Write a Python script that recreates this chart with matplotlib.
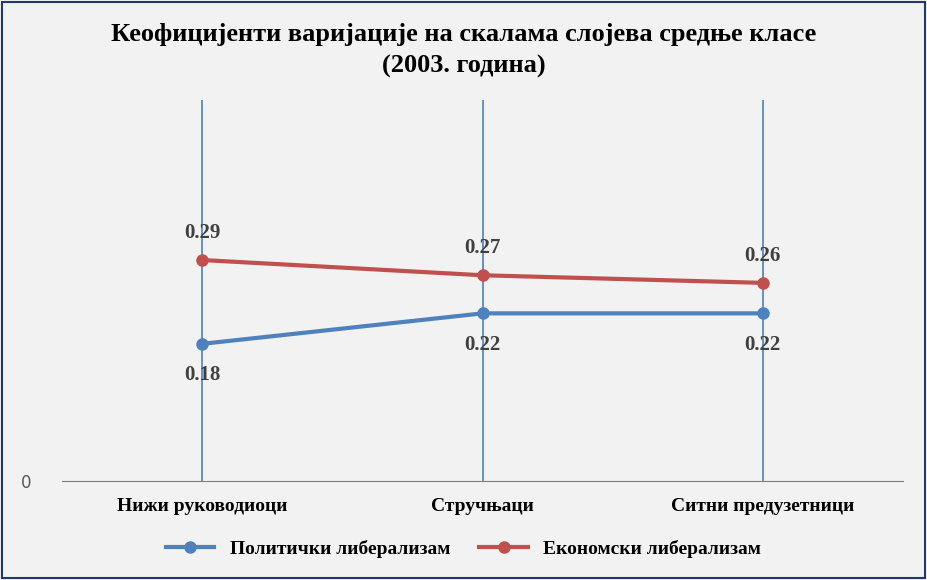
import matplotlib
matplotlib.use("Agg")
import matplotlib.pyplot as plt
from matplotlib.patches import Rectangle

categories = ["Нижи руководиоци", "Стручњаци", "Ситни предузетници"]
political = [0.18, 0.22, 0.22]
economic = [0.29, 0.27, 0.26]
pol_labels = ["0.18", "0.22", "0.22"]
eco_labels = ["0.29", "0.27", "0.26"]

serif = "Liberation Serif"
bg = "#F2F2F2"
blue = "#4F81BD"
red = "#C0504D"

fig = plt.figure(figsize=(9.27, 5.8), dpi=100, facecolor=bg)
fig.patches.append(Rectangle((0.002, 0.003), 0.996, 0.994, transform=fig.transFigure,
                             fill=False, edgecolor="#1F3A6E", linewidth=1.5))
ax = fig.add_axes([62/927, 1-481/580, 841/927, 381/580], facecolor=bg)
x = list(range(len(categories)))
ax.set_xlim(-0.5, 2.5)
ax.set_ylim(0, 0.5)
for xi in x:
    ax.axvline(xi, color=blue, linewidth=1.2, zorder=1)
ax.plot(x, political, color=blue, linewidth=3, marker="o", markersize=8, zorder=3,
        label="Политички либерализам")
ax.plot(x, economic, color=red, linewidth=3, marker="o", markersize=8, zorder=3,
        label="Економски либерализам")
for xi, v, t in zip(x, political, pol_labels):
    ax.text(xi, v - 0.028, t, ha="center", va="top", fontsize=15, fontweight="bold",
            family=serif, color="#404040")
for xi, v, t in zip(x, economic, eco_labels):
    ax.text(xi, v + 0.022, t, ha="center", va="bottom", fontsize=15, fontweight="bold",
            family=serif, color="#404040")
for s in ["top", "right", "left"]:
    ax.spines[s].set_visible(False)
ax.spines["bottom"].set_color("#7F7F7F")
ax.set_yticks([0])
ax.set_yticklabels(["0"], fontsize=12, color="#595959")
ax.tick_params(axis="y", length=0, pad=22)
ax.set_xticks(x)
ax.set_xticklabels(categories, fontsize=14, fontweight="bold", family=serif)
ax.tick_params(axis="x", length=0, pad=12)
fig.text(0.5, 0.94, "Кеофицијенти варијације на скалама слојева средње класе",
         ha="center", va="center", fontsize=19, fontweight="bold", family=serif)
fig.text(0.5, 0.885, "(2003. година)", ha="center", va="center", fontsize=19,
         fontweight="bold", family=serif)
fig.legend(loc="center", bbox_to_anchor=(0.5, 0.053), ncol=2, frameon=False,
           prop={"family": serif, "size": 14, "weight": "bold"}, handlelength=2.5,
           columnspacing=1.5)
fig.savefig("out.png", dpi=100, facecolor=bg)
